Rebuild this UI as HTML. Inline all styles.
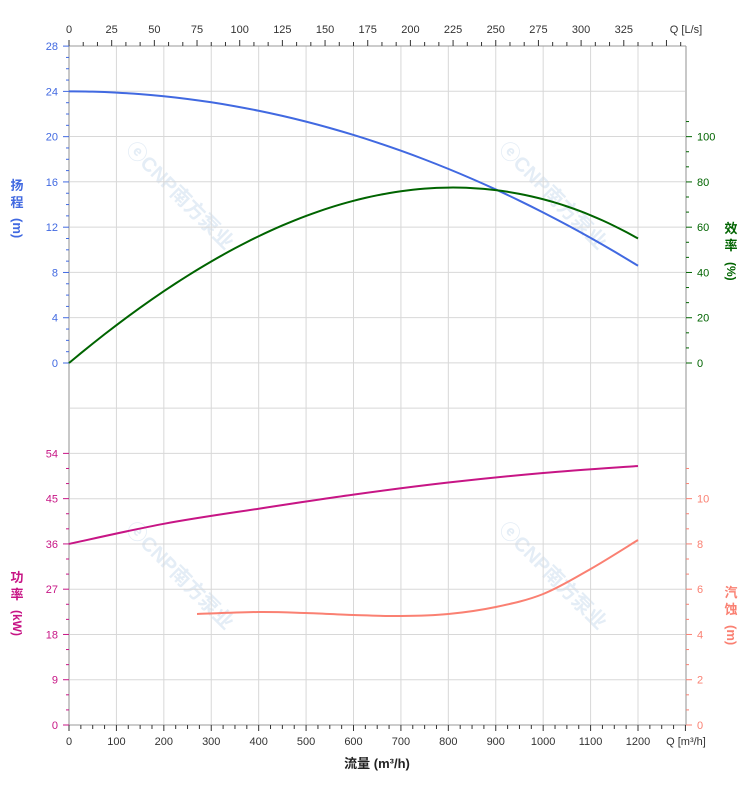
<!DOCTYPE html>
<html><head><meta charset="utf-8"><style>
html,body{margin:0;padding:0;background:#fff;}
svg{display:block;font-family:"Liberation Sans","Noto Sans CJK SC",sans-serif;}
</style></head><body>
<svg id="s" width="752" height="797" xmlns="http://www.w3.org/2000/svg">
<g id="wm" fill="#e4edf6" font-size="20" font-weight="bold">
<text transform="translate(125,150) rotate(45)">ⓔCNP南方泵业</text>
<text transform="translate(498,150) rotate(45)">ⓔCNP南方泵业</text>
<text transform="translate(498,530) rotate(45)">ⓔCNP南方泵业</text>
<text transform="translate(125,530) rotate(45)">ⓔCNP南方泵业</text>
</g>
<g id="grid" stroke="#d8d8d8" stroke-width="1"></g>
<g id="ax"></g>
<g id="curves" fill="none" stroke-width="2"></g>
<g id="lab"></g>
</svg>
<script>
const NS="http://www.w3.org/2000/svg";
function el(p,t,a,txt){const e=document.createElementNS(NS,t);for(const k in a)e.setAttribute(k,a[k]);if(txt!==undefined)e.textContent=txt;document.getElementById(p).appendChild(e);return e;}
const X0=69,X1=686,Y0=46,Y1=725,kx=0.47417,st=45.27;
const qx=q=>X0+q*kx;
for(let i=0;i<=15;i++){let y=Y0+i*st;el('grid','line',{x1:X0,x2:X1,y1:y,y2:y});}
for(let q=100;q<=1200;q+=100){el('grid','line',{x1:qx(q),x2:qx(q),y1:Y0,y2:Y1});}
el('ax','line',{x1:X0,x2:X0,y1:Y0,y2:Y1,stroke:'#c8c8c8','stroke-width':2});
el('ax','line',{x1:X1,x2:X1,y1:Y0,y2:Y1,stroke:'#c8c8c8','stroke-width':2});
el('ax','line',{x1:X0,x2:X1,y1:Y0,y2:Y0,stroke:'#999','stroke-width':1});
el('ax','line',{x1:X0,x2:X1,y1:Y1,y2:Y1,stroke:'#999','stroke-width':1});
for(let q=0;q<=1300;q+=25){let x=qx(q);let maj=q%100==0;el('ax','line',{x1:x,x2:x,y1:Y1,y2:Y1+(maj?6:4),stroke:'#333'});
 if(maj&&q<=1200)el('lab','text',{x:x,y:745,'font-size':11,fill:'#333','text-anchor':'middle'},q);}
el('lab','text',{x:686,y:745,'font-size':11,fill:'#333','text-anchor':'middle'},'Q [m³/h]');
for(let i=0;i<=48;i++){let l=i*25/3;let x=X0+l*3.6*kx;if(x>X1)break;let maj=i%3==0;el('ax','line',{x1:x,x2:x,y1:Y0,y2:Y0-(maj?6:4),stroke:'#333'});
 if(maj&&l<=326)el('lab','text',{x:x,y:33,'font-size':11,fill:'#333','text-anchor':'middle'},Math.round(l));}
el('lab','text',{x:686,y:33,'font-size':11,fill:'#333','text-anchor':'middle'},'Q [L/s]');
for(let i=0;i<=28;i++){let y=363-i*st/4;let maj=i%4==0;el('ax','line',{x1:X0,x2:X0-(maj?6:3),y1:y,y2:y,stroke:'#4169e1'});
 if(maj)el('lab','text',{x:58,y:y+4,'font-size':11,fill:'#4169e1','text-anchor':'end'},i);}
for(let i=0;i<=18;i++){let y=725-i*st/3;let maj=i%3==0;el('ax','line',{x1:X0,x2:X0-(maj?6:3),y1:y,y2:y,stroke:'#c71585'});
 if(maj)el('lab','text',{x:58,y:y+4,'font-size':11,fill:'#c71585','text-anchor':'end'},i*3);}
for(let i=0;i<=16;i++){let y=363-i*st/3;if(y<Y0+3)break;let maj=i%3==0;el('ax','line',{x1:X1,x2:X1+(maj?6:3),y1:y,y2:y,stroke:'#006400'});
 if(maj&&i<=15)el('lab','text',{x:697,y:y+4,'font-size':11,fill:'#006400'},i/3*20);}
for(let i=0;i<=17;i++){let y=725-i*st/3;let maj=i%3==0;el('ax','line',{x1:X1,x2:X1+(maj?6:3),y1:y,y2:y,stroke:'#fa8072'});
 if(maj&&i<=15)el('lab','text',{x:697,y:y+4,'font-size':11,fill:'#fa8072'},i/3*2);}
function cr(pts){let d='M'+pts[0][0]+','+pts[0][1];for(let i=0;i<pts.length-1;i++){let p0=pts[i-1]||pts[i],p1=pts[i],p2=pts[i+1],p3=pts[i+2]||p2;
 d+=' C'+(p1[0]+(p2[0]-p0[0])/6)+','+(p1[1]+(p2[1]-p0[1])/6)+' '+(p2[0]-(p3[0]-p1[0])/6)+','+(p2[1]-(p3[1]-p1[1])/6)+' '+p2[0]+','+p2[1];}return d;}
let head=[];for(let q=0;q<=1200;q+=50){let h=24-1.07e-5*q*q;head.push([qx(q),363-h*st/4]);}
el('curves','path',{d:cr(head),stroke:'#4169e1'});
let eff=[];for(let q=0;q<=1200;q+=25){let u=q/400;let e=70.08*u-12.5*u*u-1.583*u*u*u;eff.push([qx(q),363-e*st/20]);}
el('curves','path',{d:cr(eff),stroke:'#006400'});
let pw=[[0,36],[200,40],[400,43],[600,45.8],[800,48.2],[1000,50.1],[1200,51.5]].map(p=>[qx(p[0]),725-p[1]*st/9]);
el('curves','path',{d:cr(pw),stroke:'#c71585'});
let np=[[270,614],[400,612],[500,613],[600,615],[700,616],[800,614],[900,607],[1000,594],[1100,569],[1200,540]].map(p=>[qx(p[0]),p[1]]);
el('curves','path',{d:cr(np),stroke:'#fa8072'});
function vt(x,y,chars,col,step){chars.forEach((c,i)=>{el('lab','text',{x:x,y:y+i*step,'font-size':13,fill:col,'font-weight':'bold','text-anchor':'middle'},c);});}
vt(17,190,['扬','程'],'#4169e1',17);
el('lab','text',{transform:'translate(13,218) rotate(90)','font-size':13,fill:'#4169e1','font-weight':'bold'},'(m)');
vt(17,582,['功','率'],'#c71585',17);
el('lab','text',{transform:'translate(13,610) rotate(90)','font-size':12,fill:'#c71585','font-weight':'bold'},'(kW)');
vt(731,233,['效','率'],'#006400',17);
el('lab','text',{transform:'translate(727,262) rotate(90)','font-size':12,fill:'#006400','font-weight':'bold'},'(%)');
vt(731,597,['汽','蚀'],'#fa8072',17);
el('lab','text',{transform:'translate(727,625) rotate(90)','font-size':13,fill:'#fa8072','font-weight':'bold'},'(m)');
el('lab','text',{x:377,y:768,'font-size':13,fill:'#222','font-weight':'bold','text-anchor':'middle'},'流量 (m³/h)');
</script>
</body></html>
